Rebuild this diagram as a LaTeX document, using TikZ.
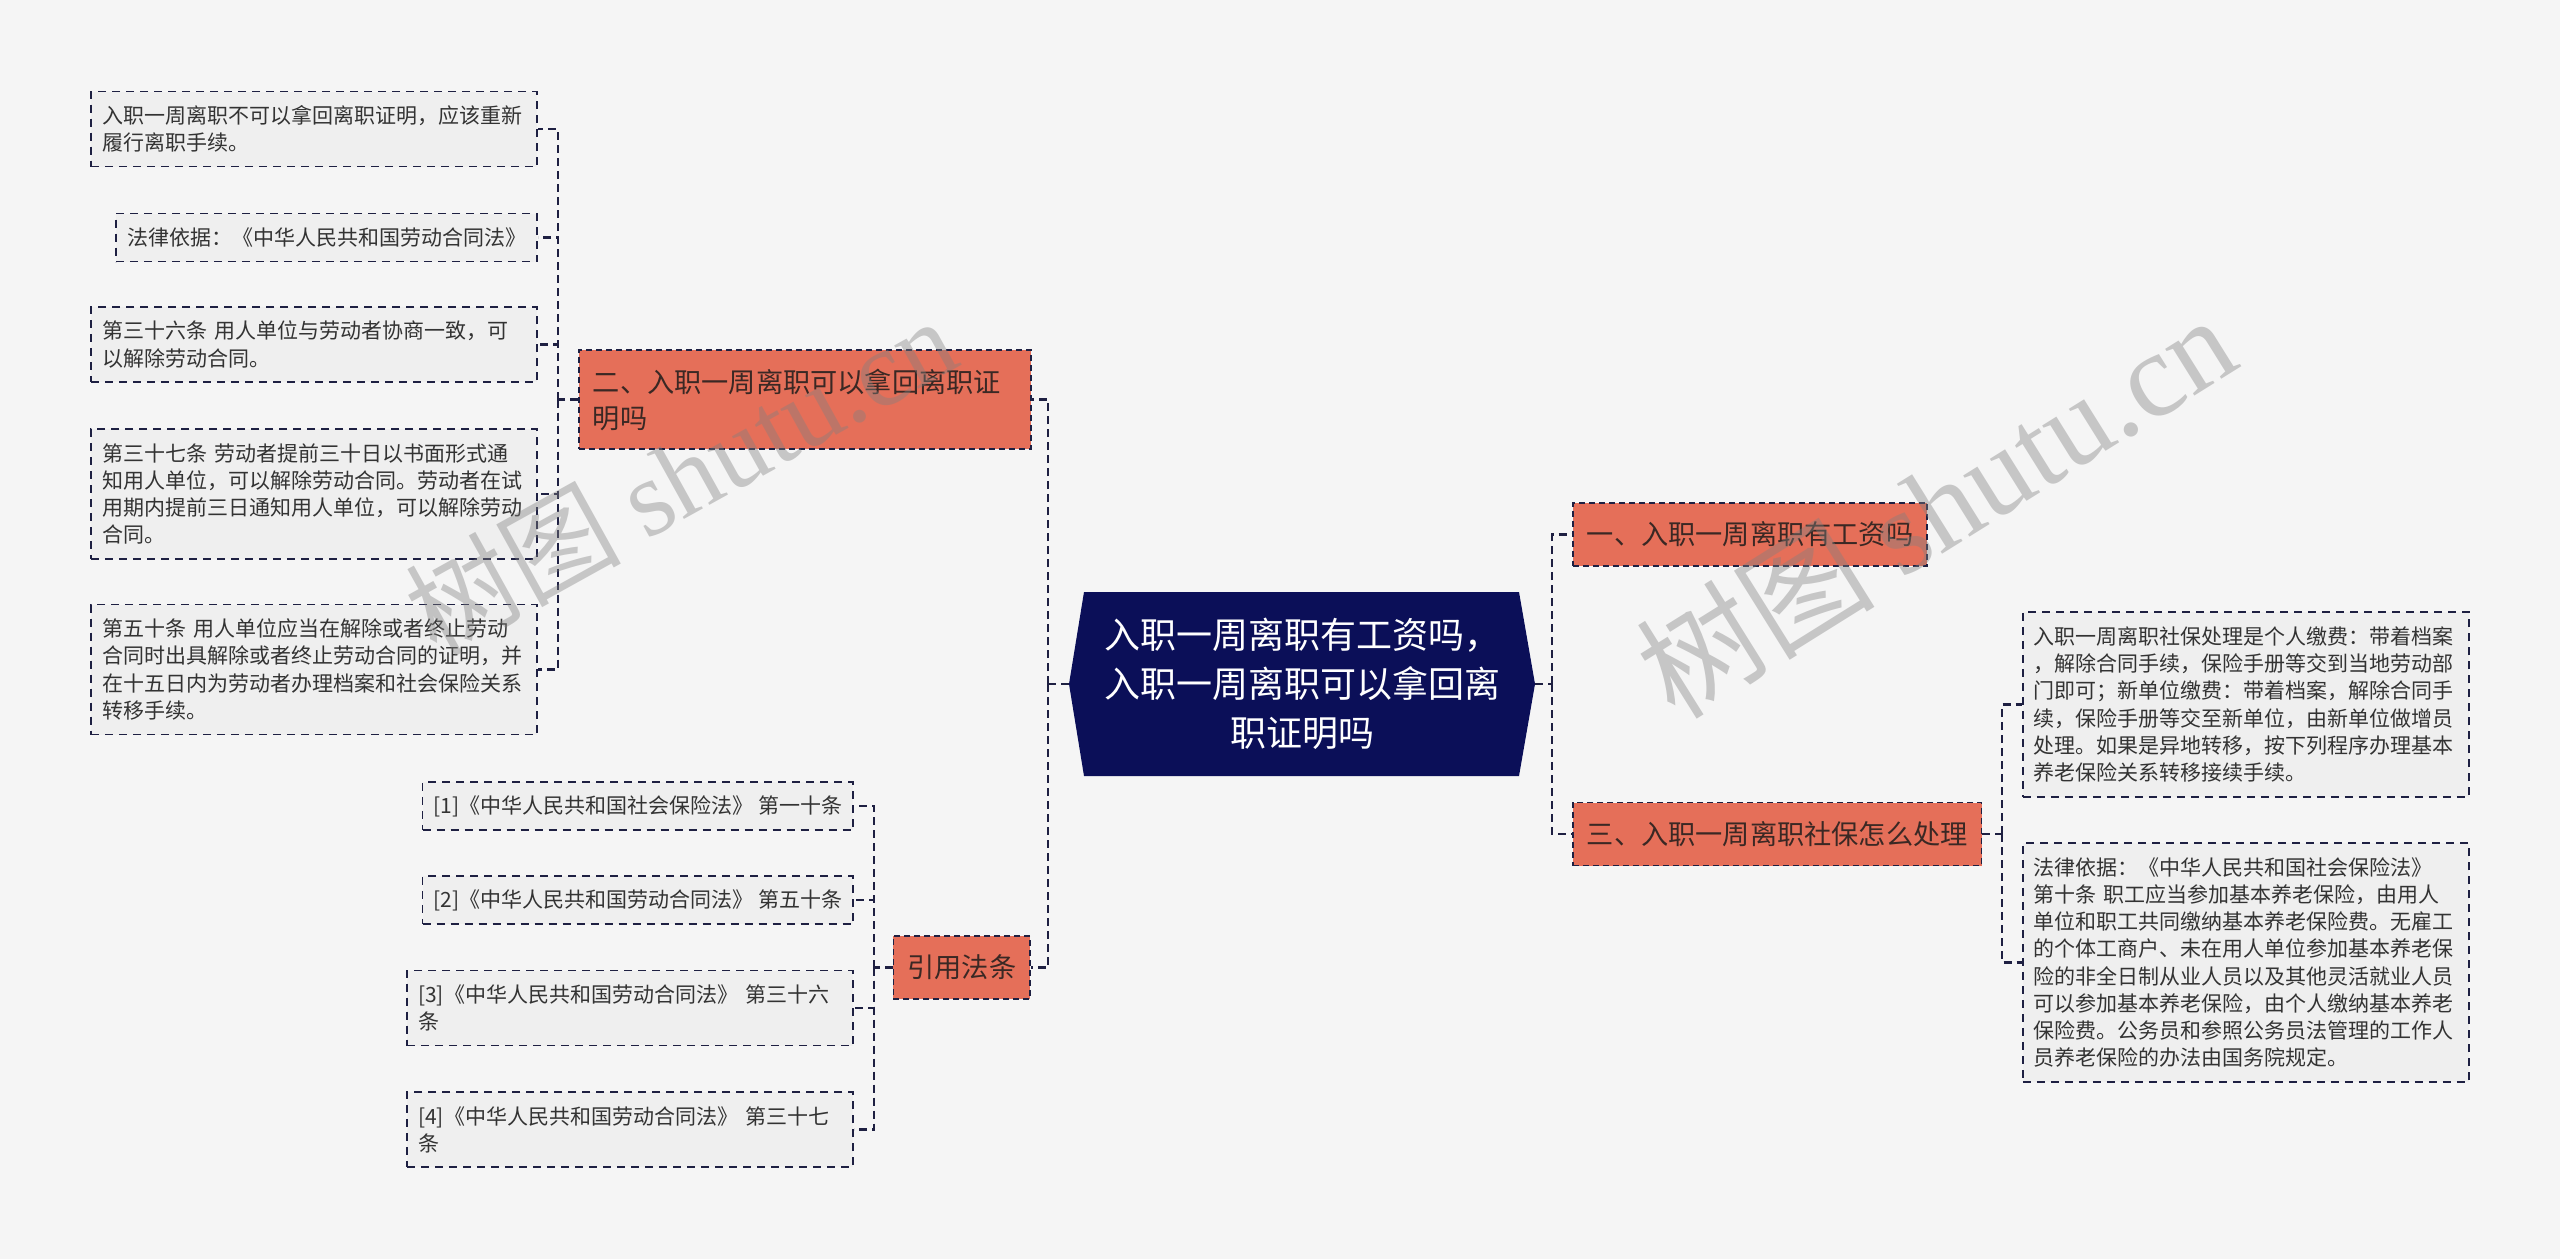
\documentclass[tikz,border=0pt]{standalone}
\usepackage{fontspec}
\setmainfont{Noto Sans CJK SC}
\newfontfamily\wmfont{Liberation Serif}

\definecolor{pagebg}{RGB}{245,245,245}
\definecolor{leaffill}{RGB}{239,239,239}
\definecolor{coral}{RGB}{229,111,89}
\definecolor{navy}{RGB}{11,15,88}
\definecolor{edge}{RGB}{30,32,66}
\definecolor{leaftext}{RGB}{51,51,51}
\definecolor{branchtext}{RGB}{58,40,36}

\tikzset{
  leaf/.style={draw=edge, line width=0.8pt, dash pattern=on 4pt off 3pt,
    fill=leaffill, text=leaftext, align=left, inner xsep=5.5pt, inner ysep=0pt,
    font={\fontsize{10.5pt}{13.6pt}\selectfont}},
  branch/.style={draw=edge, line width=0.8pt, dash pattern=on 3pt off 2pt,
    fill=coral, text=branchtext, align=left, inner xsep=7pt, inner ysep=0pt,
    minimum height=31.5pt, font={\fontsize{13.6pt}{18pt}\selectfont}},
  link/.style={draw=edge, line width=1.1pt, dash pattern=on 4pt off 2.5pt},
  wm/.style={text=gray, opacity=0.4, font={\fontsize{54pt}{60pt}\selectfont}},
}

\begin{document}
\begin{tikzpicture}[x=0.5pt,y=-0.5pt]
  \fill[pagebg] (0,0) rectangle (2560,1259);
  \useasboundingbox (0,0) rectangle (2560,1259);

  % centre
  \fill[navy] (1069,684) -- (1084,592) -- (1519,592) -- (1535,684) -- (1519,776) -- (1084,776) -- cycle;
  \node[minimum width=233pt, minimum height=92pt, inner sep=0pt, align=center, text=white,
    font={\fontsize{18pt}{24.5pt}\selectfont}] (root) at (1302,684)
    {入职一周离职有工资吗，\\入职一周离职可以拿回离\\职证明吗};

  % left side
  \node[branch, anchor=west, text width=212pt, minimum height=49.5pt] (b2) at (578,399.5) {二、入职一周离职可以拿回离职证\\明吗};
  \node[branch, anchor=east] (cite) at (1031,967.5) {引用法条};

  \node[leaf, anchor=east, text width=212pt, minimum height=37.5pt] (l1) at (538,129) {入职一周离职不可以拿回离职证明，应该重新\\履行离职手续。};
  \node[leaf, anchor=east, minimum height=24pt] (l2) at (538,237.5) {法律依据：《中华人民共和国劳动合同法》};
  \node[leaf, anchor=east, text width=212pt, minimum height=37.5pt] (l3) at (538,344.5) {第三十六条 用人单位与劳动者协商一致，可\\以解除劳动合同。};
  \node[leaf, anchor=east, text width=212pt, minimum height=65pt] (l4) at (538,494) {第三十七条 劳动者提前三十日以书面形式通\\知用人单位，可以解除劳动合同。劳动者在试\\用期内提前三日通知用人单位，可以解除劳动\\合同。};
  \node[leaf, anchor=east, text width=212pt, minimum height=65pt] (l5) at (538,669.5) {第五十条 用人单位应当在解除或者终止劳动\\合同时出具解除或者终止劳动合同的证明，并\\在十五日内为劳动者办理档案和社会保险关系\\转移手续。};

  \node[leaf, anchor=east, minimum height=24pt] (r1) at (854,806) {[1]《中华人民共和国社会保险法》 第一十条};
  \node[leaf, anchor=east, minimum height=24pt] (r2) at (854,900) {[2]《中华人民共和国劳动合同法》 第五十条};
  \node[leaf, anchor=east, text width=212pt, minimum height=37.5pt] (r3) at (854,1008) {[3]《中华人民共和国劳动合同法》 第三十六\\条};
  \node[leaf, anchor=east, text width=212pt, minimum height=37.5pt] (r4) at (854,1129.5) {[4]《中华人民共和国劳动合同法》 第三十七\\条};

  % right side
  \node[branch, anchor=west] (b1) at (1572,534.5) {一、入职一周离职有工资吗};
  \node[branch, anchor=west] (b3) at (1572,834) {三、入职一周离职社保怎么处理};

  \node[leaf, anchor=west, text width=212pt, minimum height=92.5pt] (s1) at (2022,704.5) {入职一周离职社保处理是个人缴费：带着档案\\，解除合同手续，保险手册等交到当地劳动部\\门即可；新单位缴费：带着档案，解除合同手\\续，保险手册等交至新单位，由新单位做增员\\处理。如果是异地转移，按下列程序办理基本\\养老保险关系转移接续手续。};
  \node[leaf, anchor=west, text width=212pt, minimum height=119.5pt] (s2) at (2022,962.5) {法律依据：《中华人民共和国社会保险法》\\第十条 职工应当参加基本养老保险，由用人\\单位和职工共同缴纳基本养老保险费。无雇工\\的个体工商户、未在用人单位参加基本养老保\\险的非全日制从业人员以及其他灵活就业人员\\可以参加基本养老保险，由个人缴纳基本养老\\保险费。公务员和参照公务员法管理的工作人\\员养老保险的办法由国务院规定。};

  % links
  \coordinate (jl) at (1048,684);
  \coordinate (jr) at (1552,684);
  \coordinate (jb2) at (558,399.5);
  \coordinate (jc) at (874,967.5);
  \coordinate (jb3) at (2002,834);

  \draw[link] (root.west) -- (jl);
  \draw[link] (jl) |- (b2.east);
  \draw[link] (jl) |- (cite.east);
  \draw[link] (root.east) -- (jr);
  \draw[link] (jr) |- (b1.west);
  \draw[link] (jr) |- (b3.west);

  \draw[link] (b2.west) -- (jb2);
  \foreach \n in {l1,l2,l3,l4,l5}
    \draw[link] (jb2) |- (\n.east);
  \draw[link] (cite.west) -- (jc);
  \foreach \n in {r1,r2,r3,r4}
    \draw[link] (jc) |- (\n.east);
  \draw[link] (b3.east) -- (jb3);
  \foreach \n in {s1,s2}
    \draw[link] (jb3) |- (\n.west);

  % watermark
  \node[wm, rotate=29] (wmleft) at (680,475) {树图 {\wmfont shutu.cn}};
  \node[wm, rotate=32, font={\fontsize{60pt}{66pt}\selectfont}] (wmright) at (1935,505) {树图 {\wmfont shutu.cn}};
\end{tikzpicture}
\end{document}
